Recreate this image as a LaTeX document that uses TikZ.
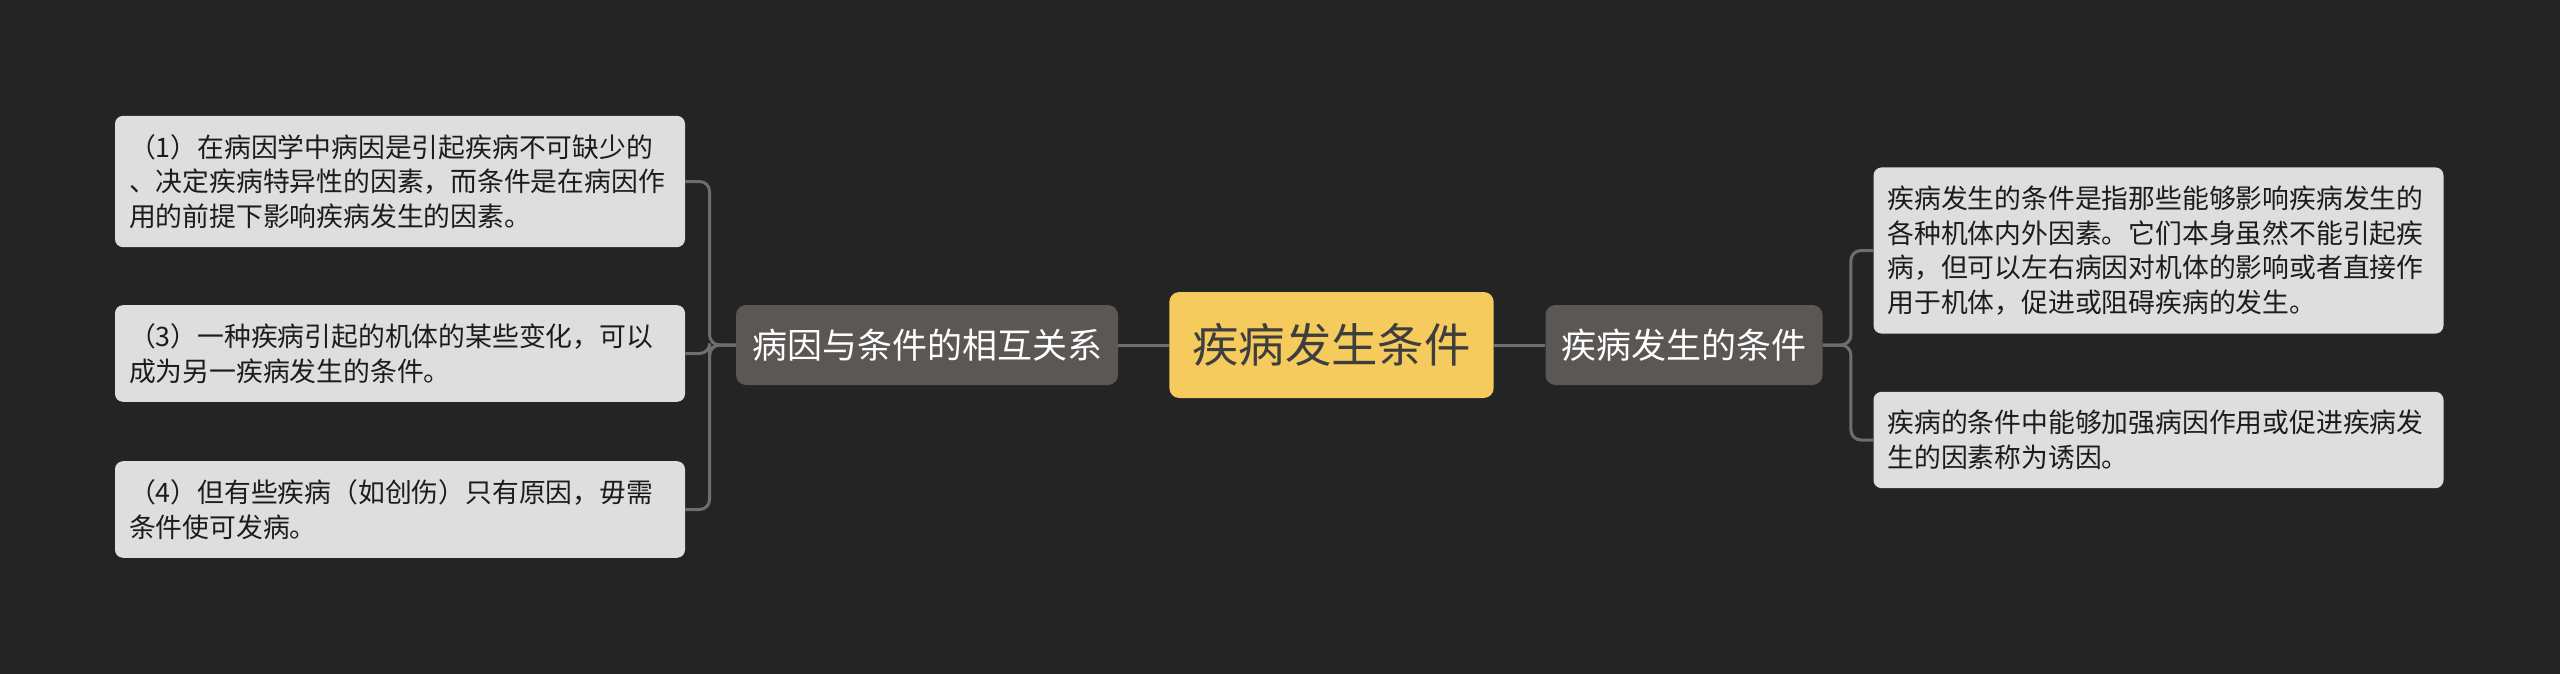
\documentclass[tikz,border=0pt]{standalone}
\usepackage{fontspec}
\newfontfamily\cjk{Noto Sans CJK SC}
\usepackage{xcolor}
\definecolor{map-bg}{HTML}{242424}
\definecolor{map-leaf}{HTML}{DEDEDE}
\definecolor{map-mid}{HTML}{5A5755}
\definecolor{map-root}{HTML}{F4CB5C}
\definecolor{map-line}{HTML}{6E6E6E}
\definecolor{map-ink}{HTML}{1C1C1C}
\usepackage{tikz}

\begin{document}
\begin{tikzpicture}[x=0.5pt, y=-0.5pt,
    leaf/.style={fill=map-leaf, rounded corners=4pt, text width=271pt, inner xsep=7pt,
        inner ysep=9.2pt, align=left, text=map-ink, font=\cjk\fontsize{13.4}{17.3}\selectfont},
    branch/.style={fill=map-mid, rounded corners=5pt, inner xsep=8pt, minimum height=40pt,
        text=white, font=\cjk\fontsize{17.5}{20}\selectfont},
    root/.style={fill=map-root, rounded corners=5pt, inner xsep=11.5pt, minimum height=53pt,
        text=map-ink!85, font=\cjk\fontsize{23.2}{26}\selectfont},
    link/.style={draw=map-line, line width=1.5pt, rounded corners=5pt}]

    % Background
    \fill[map-bg] (0, 0) rectangle (2560, 674);

    % Centre and branches
    \node[root] (core) at (1331.5, 345) {疾病发生条件};
    \node[branch] (relation) at (927, 345) {病因与条件的相互关系};
    \node[branch] (condition) at (1684, 345) {疾病发生的条件};

    % Left leaves
    \node[leaf] (rel-one) at (400, 181.5) {（1）在病因学中病因是引起疾病不可缺少的\\、决定疾病特异性的因素，而条件是在病因作\\用的前提下影响疾病发生的因素。};
    \node[leaf] (rel-three) at (400, 353.5) {（3）一种疾病引起的机体的某些变化，可以\\成为另一疾病发生的条件。};
    \node[leaf] (rel-four) at (400, 509.5) {（4）但有些疾病（如创伤）只有原因，毋需\\条件使可发病。};

    % Right leaves
    \node[leaf] (cond-def) at (2158.5, 250.5) {疾病发生的条件是指那些能够影响疾病发生的\\各种机体内外因素。它们本身虽然不能引起疾\\病，但可以左右病因对机体的影响或者直接作\\用于机体，促进或阻碍疾病的发生。};
    \node[leaf] (cond-cause) at (2158.5, 440) {疾病的条件中能够加强病因作用或促进疾病发\\生的因素称为诱因。};

    % Links
    \draw[link] (core.west) -- (relation.east);
    \draw[link] (core.east) -- (condition.west);
    \draw[link] (relation.west) -- ++(-26, 0) |- (rel-one.east);
    \draw[link] (relation.west) -- ++(-26, 0) |- (rel-three.east);
    \draw[link] (relation.west) -- ++(-26, 0) |- (rel-four.east);
    \draw[link] (condition.east) -- ++(28, 0) |- (cond-def.west);
    \draw[link] (condition.east) -- ++(28, 0) |- (cond-cause.west);

\end{tikzpicture}
\end{document}
